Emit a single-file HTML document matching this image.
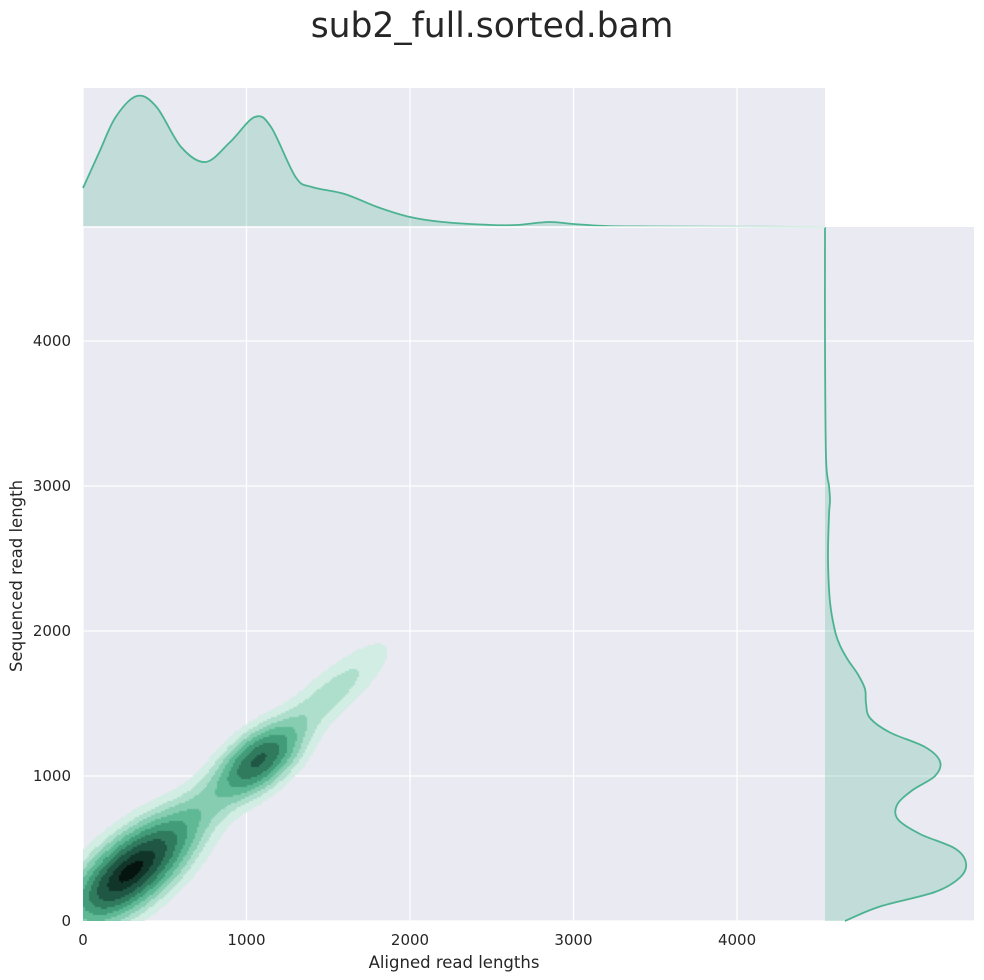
<!DOCTYPE html>
<html><head><meta charset="utf-8"><style>
body{margin:0;background:#fff;width:984px;height:980px;overflow:hidden;font-family:"DejaVu Sans","Liberation Sans",sans-serif;}
#wrap{position:relative;width:984px;height:980px;}
canvas{position:absolute;left:83px;top:227px;}
svg{position:absolute;left:0;top:0;}
</style></head><body>
<div id="wrap">
<svg id="s" width="984" height="980"></svg>
<canvas id="c" width="742" height="694"></canvas>
</div>
<script>
// top marginal density (x in bp, relative height)
const topX=[0,100,200,330,450,600,750,900,1050,1150,1300,1400,1600,1800,2000,2200,2500,2650,2850,3000,3200,3500,4538];
const topD=[39,75,110,131,120,80,65,85,110,100,50,40,33,20,10,5,2,2,5,3,1,0.5,0];
// right marginal density (y in bp)
const rightY=[0,100,200,300,400,500,600,700,800,900,1000,1100,1200,1300,1400,1500,1600,1700,1800,1900,2000,2200,2500,2800,2900,3000,3200,4000,4786];
const rightD=[20,55,110,135,141,130,95,73,72,87,110,115,100,65,45,41,40,33,23,15,10,5,3,4,5,4,1,0,0];
// 2D KDE components
const compMx=[330,1080,1500,700,150];
const compMy=[380,1110,1550,750,200];
const compSx=[200,150,230,240,160];
const compSy=[200,150,230,240,160];
const compRho=[0.6,0.55,0.85,0.82,0.5];
const compW=[1.0,0.75,0.17,0.2,0.35];
const levels=[0.04,0.1,0.17,0.26,0.37,0.5,0.65,0.82];
const colors=['#d2ede3','#aedfcd','#86cdb2','#5fb995','#429c79','#307a5e','#1f5744','#113629','#06140f'];
const xTicks=[0,1000,2000,3000,4000];
const yTicks=[0,1000,2000,3000,4000];

const L=83,R=825,T=227,B=921,TT=88,RR=974;
const xMax=4538,yMax=4786;
const xs=v=>L+v/xMax*(R-L);
const ys=v=>B-v/yMax*(B-T);
const NS='http://www.w3.org/2000/svg';
const svg=document.getElementById('s');
function el(t,a,p){const e=document.createElementNS(NS,t);for(const k in a)e.setAttribute(k,a[k]);(p||svg).appendChild(e);return e;}
function tx(s,a){const e=el('text',a);e.textContent=s;return e;}
function smooth(pts){let d='M'+pts[0][0]+','+pts[0][1];
 for(let i=0;i<pts.length-1;i++){const p0=pts[Math.max(i-1,0)],p1=pts[i],p2=pts[i+1],p3=pts[Math.min(i+2,pts.length-1)];
  d+=' C'+(p1[0]+(p2[0]-p0[0])/6)+','+(p1[1]+(p2[1]-p0[1])/6)+' '+(p2[0]-(p3[0]-p1[0])/6)+','+(p2[1]-(p3[1]-p1[1])/6)+' '+p2[0]+','+p2[1];}
 return d;}

let r;
r=el('rect',{x:L,y:T,width:R-L,height:B-T,fill:'#eaeaf2'});
r=el('rect',{x:L,y:TT,width:R-L,height:T-TT,fill:'#eaeaf2'});
r=el('rect',{x:R,y:T,width:RR-R,height:B-T,fill:'#eaeaf2'});
xTicks.forEach(v=>{
 let g=el('line',{x1:xs(v),x2:xs(v),y1:TT,y2:B,stroke:'#fff','stroke-width':1.3});
 
 let t=tx(String(v),{x:xs(v),y:B+24,'text-anchor':'middle','font-size':15,fill:'#262626'});
 
});
yTicks.forEach(v=>{
 let g=el('line',{x1:L,x2:RR,y1:ys(v),y2:ys(v),stroke:'#fff','stroke-width':1.3});
 
 let t=tx(String(v),{x:L-12,y:ys(v)+5,'text-anchor':'end','font-size':15,fill:'#262626'});
 
});
// top marginal
const tp=topX.map((v,i)=>[xs(v),T-topD[i]]);
const dt=smooth(tp);
let tf=el('path',{d:dt+' L'+xs(topX[topX.length-1])+','+T+' L'+L+','+T+' Z',fill:'#4cb391','fill-opacity':0.25});

let tl=el('path',{d:dt,fill:'none',stroke:'#4cb391','stroke-width':1.8});

// right marginal
const rp=rightY.map((v,i)=>[R+rightD[i],ys(v)]);
const dr=smooth(rp);
let rf=el('path',{d:dr+' L'+R+','+T+' L'+R+','+B+' Z',fill:'#4cb391','fill-opacity':0.25});

let rl=el('path',{d:dr,fill:'none',stroke:'#4cb391','stroke-width':1.8});

let sep=el('line',{x1:L,x2:R,y1:T,y2:T,stroke:'#fff','stroke-width':1.5});

let t;
t=tx('sub2_full.sorted.bam',{x:492,y:37,'text-anchor':'middle','font-size':34.5,fill:'#262626'});
t=tx('Aligned read lengths',{x:454,y:968,'text-anchor':'middle','font-size':16.5,fill:'#262626'});
t=tx('Sequenced read length',{x:22,y:576,'text-anchor':'middle','font-size':16.5,fill:'#262626',transform:'rotate(-90 22 576)'});

// contours
const cv=document.getElementById('c'),ctx=cv.getContext('2d');
function dens(x,y){let s=0;for(let k=0;k<compW.length;k++){const dx=(x-compMx[k])/compSx[k],dy=(y-compMy[k])/compSy[k],p=compRho[k];
 s+=compW[k]*Math.exp(-(dx*dx-2*p*dx*dy+dy*dy)/(2*(1-p*p)));}return s;}
let mx=0;const W=cv.width,H=cv.height,st=2;const vals=[];
for(let j=0;j<H;j+=st){for(let i=0;i<W;i+=st){const xv=(i+1)/(R-L)*xMax,yv=(B-T-j-1)/(B-T)*yMax;const v=dens(xv,yv);vals.push(v);if(v>mx)mx=v;}}
let n=0;
for(let j=0;j<H;j+=st){for(let i=0;i<W;i+=st){const v=vals[n++]/mx;let lv=-1;for(let q=0;q<levels.length;q++)if(v>=levels[q])lv=q;
 if(v>=0.95)lv=8;if(lv>=0){ctx.fillStyle=colors[lv];ctx.fillRect(i,j,st,st);}}}
</script></body></html>
